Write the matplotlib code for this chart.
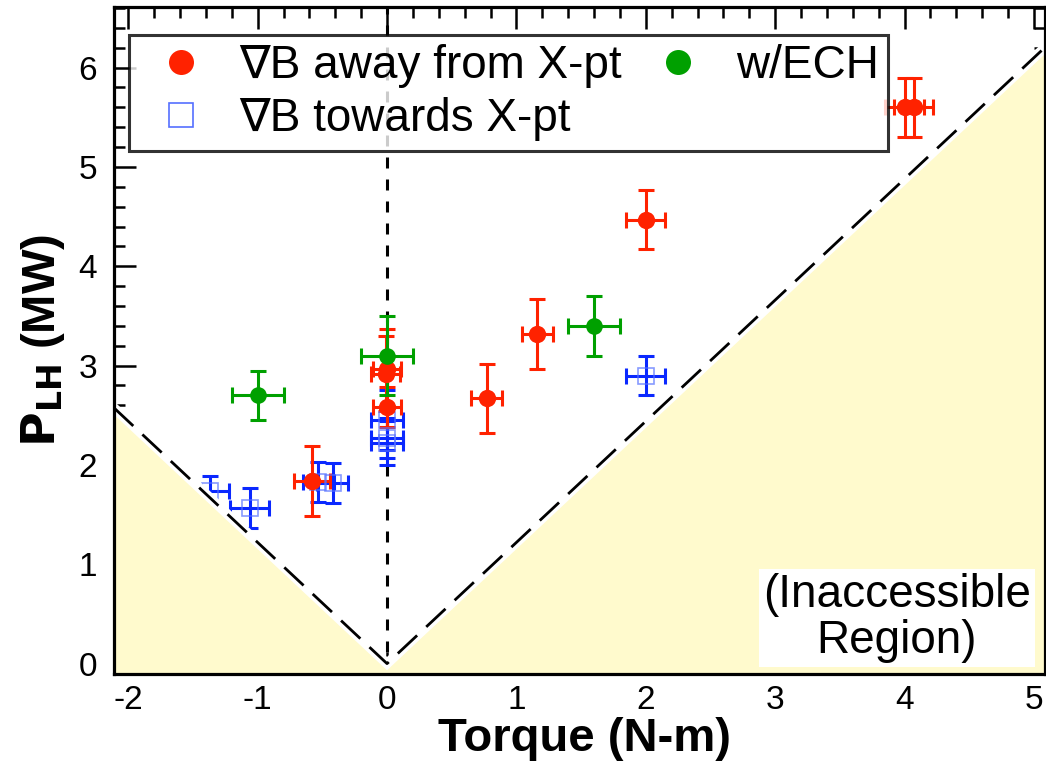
import matplotlib

matplotlib.use("Agg")
import matplotlib.pyplot as plt
import numpy as np
from matplotlib.lines import Line2D
from matplotlib.ticker import MultipleLocator

plt.rcParams["font.family"] = ["Liberation Sans", "DejaVu Sans"]
plt.rcParams["axes.unicode_minus"] = False

# grad-B away from X-point (red)
away_x = [4.0, 4.07, 2.0, 1.16, 0.77, 0.0, -0.01, 0.0, -0.58]
away_y = [5.6, 5.6, 4.47, 3.32, 2.67, 2.97, 2.92, 2.58, 1.84]
away_xerr = [0.15, 0.15, 0.15, 0.12, 0.12, 0.11, 0.11, 0.11, 0.14]
away_yerr = [0.3, 0.3, 0.3, 0.35, 0.35, 0.4, 0.38, 0.2, 0.35]

# grad-B towards X-point (blue)
towards_x = [2.0, 0.0, 0.0, 0.0, -0.53, -0.42, -1.06, -1.37]
towards_y = [2.9, 2.45, 2.27, 2.22, 1.83, 1.82, 1.57, 1.74]
towards_xerr = [0.15, 0.12, 0.12, 0.12, 0.12, 0.12, 0.15, 0.15]
towards_yerr = [0.2, 0.3, 0.2, 0.22, 0.2, 0.2, 0.2, 0.15]

# with ECH (green)
ech_x = [-1.0, 0.0, 1.6]
ech_y = [2.7, 3.1, 3.4]
ech_xerr = [0.2, 0.2, 0.2]
ech_yerr = [0.25, 0.4, 0.3]

BOUND_SLOPE = 1.22
XLIM = (-2.11, 5.085)
YLIM = (-0.105, 6.61)

RED = "#ff2200"
BLUE = "#0a28ff"
GREEN = "#00a000"
FILL = "#fffacd"

fig = plt.figure(figsize=(10.46, 7.63), dpi=100)
ax = fig.add_axes([0.109, 0.1166, 0.890, 0.8742])

eb = dict(fmt="none", elinewidth=2.2, capsize=6, capthick=2.2, zorder=2)
ax.errorbar(towards_x, towards_y, xerr=towards_xerr, yerr=towards_yerr, ecolor=BLUE, **eb)
ax.plot(towards_x, towards_y, "s", ms=12, mfc="none", mec="#5570ff", mew=1.2, alpha=0.7, zorder=3)
ax.errorbar(away_x, away_y, xerr=away_xerr, yerr=away_yerr, ecolor=RED, **eb)
ax.plot(away_x, away_y, "o", ms=12.5, color=RED, mec="none", zorder=4)
ax.errorbar(ech_x, ech_y, xerr=ech_xerr, yerr=ech_yerr, ecolor=GREEN, **eb)
ax.plot(ech_x, ech_y, "o", ms=12, color=GREEN, mec="none", zorder=4)

# inaccessible region below P = slope * |T|
bx = np.array([XLIM[0], 0.0, XLIM[1]])
by = BOUND_SLOPE * np.abs(bx)
ax.fill_between(bx, YLIM[0], by, color=FILL, lw=0, zorder=5)
ax.plot(bx, by, color="white", lw=7, zorder=6, solid_joinstyle="miter")
ax.plot(bx, by, color="black", lw=2, dashes=(9.5, 4.5), zorder=7)
ax.axvline(0, color="black", lw=2.2, dashes=(3.6, 3.6), zorder=1)

ax.text(3.94, 0.46, "(Inaccessible\nRegion)", ha="center", va="center", fontsize=33,
        linespacing=1.05, zorder=8,
        bbox=dict(facecolor="white", edgecolor="none", pad=3))

ax.set_xlim(*XLIM)
ax.set_ylim(*YLIM)
ax.xaxis.set_major_locator(MultipleLocator(1))
ax.xaxis.set_minor_locator(MultipleLocator(0.2))
ax.yaxis.set_major_locator(MultipleLocator(1))
ax.yaxis.set_minor_locator(MultipleLocator(0.2))
ax.tick_params(which="both", direction="in", top=True, right=True, width=1.8, labelsize=24)
ax.tick_params(which="major", length=16)
ax.tick_params(axis="x", which="major", pad=8)
ax.tick_params(axis="y", which="major", pad=12)
ax.tick_params(which="minor", length=8)
for s in ax.spines.values():
    s.set_linewidth(2.3)
    s.set_zorder(10)

ax.set_xlabel("Torque (N-m)", fontsize=34, fontweight="bold")
ax.set_ylabel(r"$\mathbf{P_{LH}}$ (MW)", fontsize=34, fontweight="bold")
ax.xaxis.set_label_coords(0.505, -0.065)
ax.yaxis.set_label_coords(-0.05, 0.5)

handles = [
    Line2D([], [], ls="none", marker="o", ms=18, color=RED, mec="none"),
    Line2D([], [], ls="none", marker="s", ms=17, mfc="none", mec="#5570ff", mew=1.2),
    Line2D([], [], ls="none", marker="o", ms=18, color=GREEN, mec="none"),
]
labels = ["\u2207B away from X-pt", "\u2207B towards X-pt", "w/ECH"]
leg = ax.legend(handles, labels, ncol=2, loc="upper left", bbox_to_anchor=(0.016, 0.958),
                borderaxespad=0, fontsize=33, frameon=True, fancybox=False,
                handlelength=1.87, handletextpad=0.33, columnspacing=0.3,
                labelspacing=0.2, borderpad=0.2)
leg.get_frame().set_edgecolor("black")
leg.get_frame().set_linewidth(2.2)
leg.set_zorder(11)

fig.savefig("out.png", dpi=100)
